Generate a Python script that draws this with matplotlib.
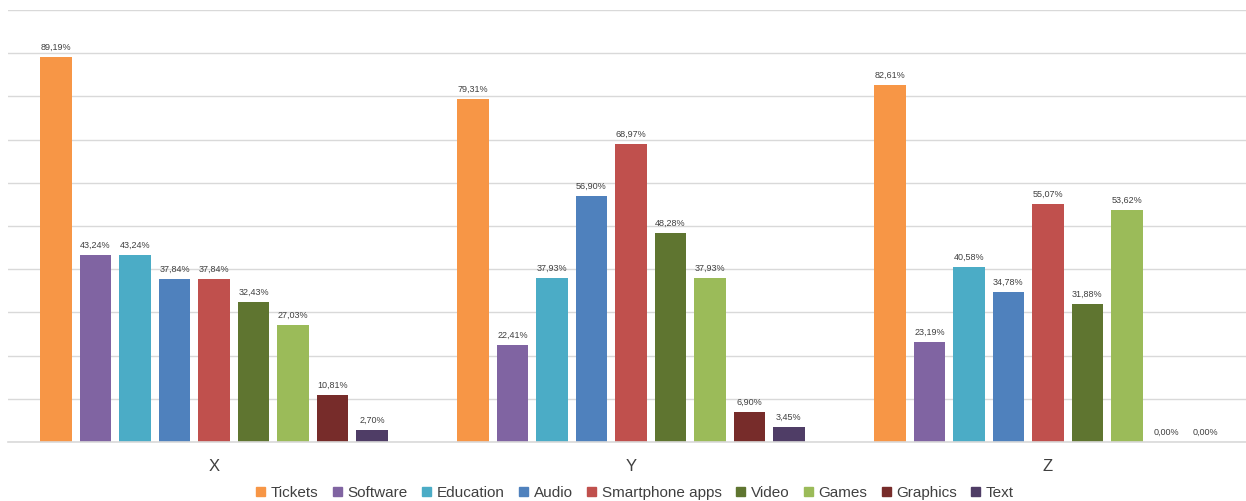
import numpy as np
import matplotlib.pyplot as plt
from matplotlib.patches import Patch

groups = ["X", "Y", "Z"]
series = ["Tickets", "Software", "Education", "Audio", "Smartphone apps",
          "Video", "Games", "Graphics", "Text"]
colors = ["#F79646", "#8064A2", "#4BACC6", "#4F81BD", "#C0504D",
          "#5F7530", "#9BBB59", "#772C2A", "#4F3D66"]

vals_x = [89.19, 43.24, 43.24, 37.84, 37.84, 32.43, 27.03, 10.81, 2.70]
vals_y = [79.31, 22.41, 37.93, 56.90, 68.97, 48.28, 37.93, 6.90, 3.45]
vals_z = [82.61, 23.19, 40.58, 34.78, 55.07, 31.88, 53.62, 0.00, 0.00]
data = np.array([vals_x, vals_y, vals_z]) / 100.0

plt.rcParams['font.family'] = ['Liberation Sans', 'DejaVu Sans']

fig = plt.figure(figsize=(12.46, 5.01), dpi=100)
ax = fig.add_axes([8 / 1246, 59 / 501, 1238 / 1246, 432 / 501])

pitch = 0.0947
bw = pitch * 0.79
x = np.arange(len(groups))
for i, name in enumerate(series):
    pos = x + (i - 4) * pitch
    bars = ax.bar(pos, data[:, i], width=bw, color=colors[i], zorder=3)
    for b, v in zip(bars, data[:, i]):
        ax.text(b.get_x() + b.get_width() / 2, v + 0.012,
                f"{v * 100:.2f}%".replace(".", ","),
                ha="center", va="bottom", fontsize=6.5, color="#404040")

ax.set_xlim(-0.494, 2.475)
ax.set_ylim(0, 1)
ax.set_yticks(np.arange(0, 1.01, 0.1))
ax.set_yticklabels([])
ax.yaxis.grid(True, color="#D9D9D9", linewidth=1, zorder=0)
ax.axhline(0, color="#D9D9D9", linewidth=1.2, zorder=4, clip_on=False)
ax.tick_params(left=False, bottom=False, labelsize=12, labelcolor="#404040", pad=9)
ax.set_xticks(x)
ax.set_xticklabels(groups)
for s in ax.spines.values():
    s.set_visible(False)

handles = [Patch(color=c, label=n) for c, n in zip(colors, series)]
fig.legend(handles=handles, loc="center", bbox_to_anchor=(635 / 1246, 8 / 501),
           ncol=9, frameon=False, fontsize=11, handlelength=0.6, handleheight=0.6,
           handletextpad=0.35, columnspacing=0.95, labelcolor="#404040")

fig.savefig("out.png", dpi=100)
